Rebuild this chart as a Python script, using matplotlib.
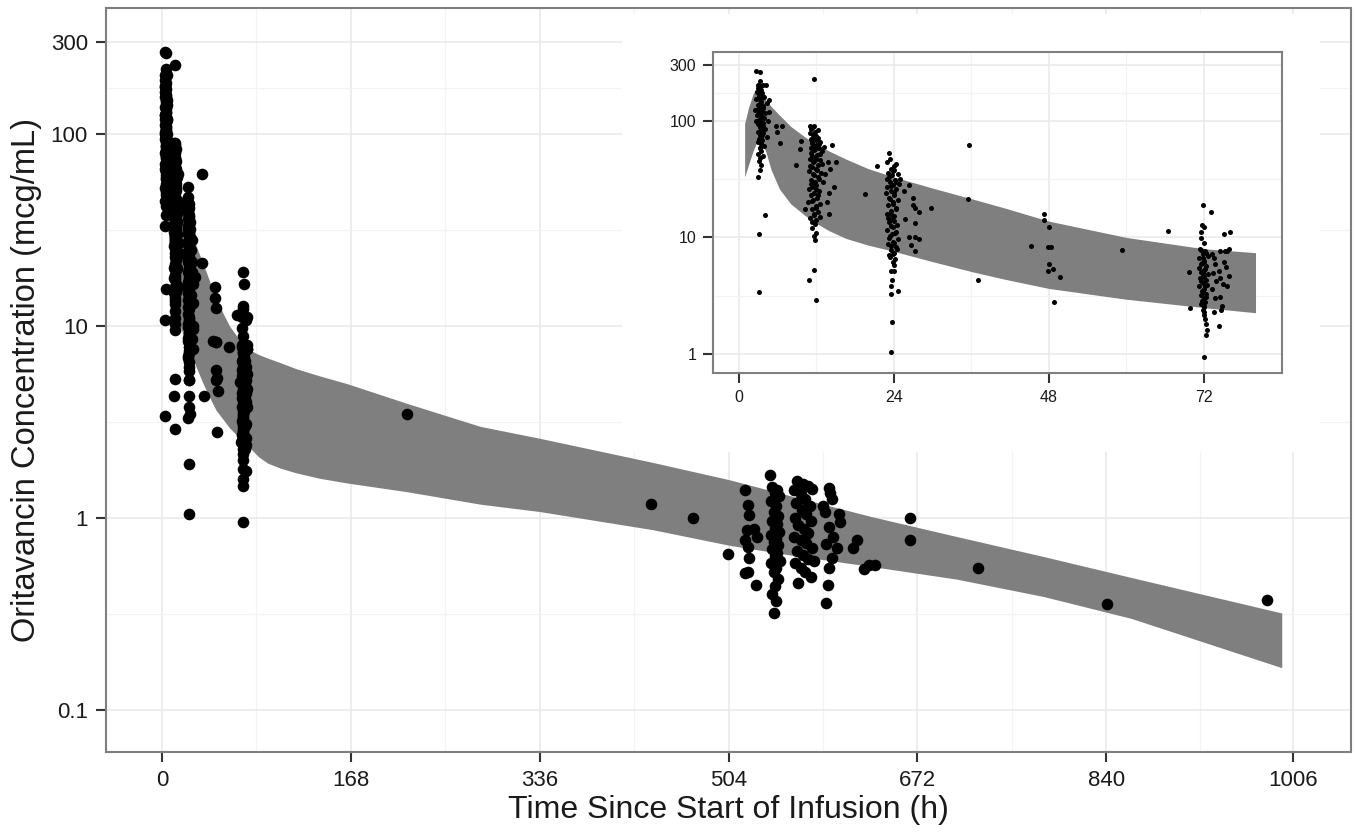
import matplotlib
matplotlib.use("Agg")
import matplotlib.pyplot as plt
from matplotlib.ticker import FixedLocator, NullFormatter

plt.rcParams['font.family'] = ['Liberation Sans', 'DejaVu Sans']

# ---------------- data (time h, concentration mcg/mL) ----------------
pts_3h = [(2.6,268),(3.2,263),(3.2,219),(2.9,204),(3.7,204),(4.2,204),(3.0,190),(3.4,185),(2.8,178),(3.6,172),
          (3.1,165),(3.9,160),(2.7,155),(3.3,150),(3.5,146),(4.4,142),(3.0,138),(3.8,135),(3.2,130),(2.9,126),
          (3.6,122),(4.1,118),(3.3,115),(2.8,112),(3.5,108),(3.9,105),(3.1,102),(4.5,100),(3.4,97),(2.9,94),
          (3.7,91),(3.2,88),(4.0,86),(3.5,83),(3.0,80),(3.8,78),(3.3,75),(4.3,73),(3.1,70),(3.6,68),
          (2.9,66),(3.4,63),(3.9,61),(3.2,58),(3.5,55),(3.0,52),(3.7,50),(3.3,48),(3.1,45),(3.4,42),
          (3.2,38),(3.0,33),(4.0,15.5),(3.05,10.8),(3.1,3.4),(5.8,90),(6.7,90),(5.9,80),(6.3,65),(4.6,150),
          (4.7,120),(2.5,125),(2.6,100),(3.5,200),(3.1,175),(3.6,158),(3.3,140),(3.7,128),(3.1,119),(3.5,110),
          (3.3,99),(3.8,95),(3.4,87),(3.2,82),(3.6,76),(3.4,71),(3.5,64),(3.3,59)]

pts_12h = [(11.7,230),(11.0,90),(11.7,90),(11.2,85),(11.8,80),(11.5,76),(12.2,72),(11.1,70),(11.9,68),(12.6,66),
           (11.4,64),(12.0,62),(11.3,60),(12.4,58),(11.6,56),(12.9,55),(11.2,53),(12.1,51),(11.8,49),(11.0,47),
           (12.5,46),(11.5,44),(12.2,42),(11.3,40),(11.9,39),(10.8,37),(12.7,36),(11.6,34),(12.3,33),(11.1,31),
           (11.8,30),(12.0,28),(11.4,27),(10.9,26),(12.4,25),(11.7,24),(11.2,23),(12.1,22),(11.5,21),(10.7,20),
           (12.6,19.5),(11.9,18.5),(11.3,17.5),(12.2,16.5),(11.6,15.5),(11.0,14.8),(12.0,14),(11.8,13),(11.4,12),(11.9,11),
           (11.6,10.3),(11.8,9.5),(11.7,5.3),(10.9,4.3),(11.9,2.9),(8.8,42),(9.65,67),(9.5,57),(10.3,17.7),(13.8,44),
           (15.0,44),(14.1,39),(14.7,27),(13.9,24),(13.9,16),(13.6,20),(13.2,60),(14.5,62),(13.0,30),(13.4,35),
           (11.5,88),(12.3,84),(11.0,78),(12.0,74),(11.7,71),(11.4,66),(12.4,63),(11.1,59),(11.8,57),(12.6,52),
           (11.3,50),(12.0,47),(11.6,45),(12.8,43),(11.0,41),(12.1,38),(11.5,35),(12.4,32),(11.2,29),(11.9,26),
           (12.3,23),(11.4,20.5),(12.0,18),(11.7,16),(12.5,15),(11.3,13.5)]

pts_24h = [(23.2,53),(23.0,44),(24.4,43),(21.4,41),(23.5,39),(24.0,38),(23.1,36),(24.6,35),(23.7,34),(22.9,32),
           (24.2,31),(23.4,30),(24.8,29),(23.9,28),(23.0,27),(24.3,26),(23.6,25),(22.8,24),(24.1,23),(23.3,22),
           (24.7,21),(23.8,20),(23.1,19),(24.4,18),(23.5,17),(22.9,16),(24.0,15.2),(23.7,14.4),(23.2,13.6),(24.5,12.9),
           (23.9,12.2),(23.0,11.5),(24.2,10.9),(23.4,10.3),(24.6,9.7),(23.8,9.2),(23.1,8.7),(24.3,8.2),(23.6,7.8),(24.0,7.4),
           (23.3,7.0),(24.2,6.5),(23.8,6.1),(24.1,5.8),(23.6,5.2),(24.1,5.2),(23.7,4.3),(23.6,3.8),(24.6,3.5),(23.5,3.3),
           (23.7,1.9),(23.6,1.05),(25.0,32),(26.4,28),(27.2,18),(27.9,16.6),(27.2,13.2),(27.9,9.7),(27.2,10),(26.7,8.6),
           (27.2,7.6),(25.7,14.5),(27.0,21.6),(26.9,19),(26.3,10.0),(25.5,25),(19.6,23.8),(29.7,18),(35.6,62),(35.5,21.3),
           (37.1,4.3),(23.4,47),(24.1,41),(23.8,37),(23.2,33),(24.4,30),(23.6,27.5),(24.0,24.5),(23.4,21.5),(23.9,19.5),
           (24.3,17.5),(23.6,15.8),(23.1,14.8),(24.0,13.9),(23.5,12.5),(24.4,11.2),(23.7,10.6),(23.2,9.9),(24.1,9.0),(23.5,8.4),
           (24.5,7.9),(23.9,7.2),(23.4,6.8)]

pts_48h = [(47.3,16),(47.2,14),(48.05,12.4),(45.2,8.4),(47.8,8.3),(48.3,8.3),(47.95,5.9),(47.9,5.2),(48.7,5.35),(49.8,4.6),
           (48.8,2.8),(59.4,7.8),(66.5,11.4)]

pts_72h = [(71.8,19.1),(73.1,16.6),(71.7,12.7),(72.0,12.2),(71.5,11.2),(71.6,9.8),(72.0,8.9),(72.3,1.8),(72.5,1.6),(72.4,1.46),
           (72.0,0.95),(75.1,10.8),(76.0,11.2),(75.9,8.0),(74.5,7.6),(75.3,7.6),(75.6,7.6),(75.1,6.1),(75.4,5.6),(74.3,5.2),
           (74.5,4.5),(75.9,4.7),(74.9,4.0),(75.6,3.8),(74.5,3.1),(74.8,2.6),(74.6,2.4),(73.6,2.3),(74.3,1.75),(69.7,5.1),
           (69.9,2.5),(73.2,7.2),(73.5,6.6),(73.8,5.9),(73.4,5.0),(73.9,4.2),(73.3,3.6),(73.7,3.0),
           (71.4,8.0),(72.2,7.6),(71.8,7.2),(72.6,6.9),(71.3,6.6),(72.1,6.3),(71.7,6.0),(72.4,5.7),(71.2,5.5),(72.0,5.3),
           (71.6,5.1),(72.7,4.9),(71.9,4.7),(71.4,4.5),(72.3,4.3),(71.8,4.1),(72.5,3.9),(71.3,3.8),(72.1,3.6),(71.7,3.5),
           (72.4,3.3),(71.5,3.2),(72.0,3.0),(71.8,2.9),(72.2,2.8),(71.6,2.7),(72.0,2.55),(71.9,2.4),(72.1,2.3),(72.0,2.16),
           (72.2,2.0),(71.6,7.8),(72.3,7.3),(71.9,6.7),(72.0,6.1),(71.5,5.9),(72.2,5.4),(71.8,5.0),(72.1,4.6),(71.6,4.2),
           (72.2,3.85),(71.9,3.4),(72.3,3.1),(71.7,2.85),(72.1,2.6)]

pts_late = [(218,3.5),(435,1.18),(472,1.0),(503.7,0.65),(518.6,1.40),(521,1.17),(522,1.04),(520,0.87),(527,0.88),(519,0.77),
            (529,0.80),(521,0.71),(522,0.62),(519,0.515),(521,0.52),(528,0.45),
            (541,1.67),(543,1.45),(547,1.40),(545,1.35),(549,1.30),(542,1.22),(546,1.15),(544,1.08),(548,1.02),(543,0.97),
            (547,0.93),(545,0.89),(549,0.85),(542,0.82),(546,0.78),(544,0.75),(548,0.72),(543,0.69),(547,0.66),(545,0.63),
            (550,0.60),(542,0.58),(546,0.55),(544,0.52),(548,0.48),(545,0.44),(543,0.40),(546,0.37),(544,0.32),
            (565,1.55),(570,1.50),(575,1.46),(562,1.40),(578,1.42),(568,1.33),(572,1.26),(564,1.20),(576,1.15),(569,1.10),
            (573,1.05),(563,1.00),(577,0.96),(566,0.92),(571,0.88),(575,0.84),(562,0.80),(568,0.77),(573,0.74),(578,0.70),
            (565,0.67),(570,0.64),(575,0.61),(563,0.58),(568,0.55),(572,0.52),(577,0.49),(566,0.46),
            (593,1.44),(594,1.35),(596,1.25),(588,1.16),(590,1.08),(602,1.05),(603,0.95),(593,0.90),(597,0.80),(591,0.73),
            (596,0.62),(593,0.55),(592,0.45),(591,0.36),(580,0.60),(600,0.70),
            (618,0.77),(615,0.70),(624,0.54),(629,0.57),(634,0.57),(665,1.0),(665,0.77),(726,0.55),(841,0.357),(983,0.374)]

# prediction band: time, lower, upper
band_t  = [0.9, 1.5, 2.2, 2.8, 3.5, 4.2, 5.0, 6.3, 8.0, 10.2, 12.0, 14.0, 16.6, 20, 24, 30, 36, 41, 48, 60, 72, 80,
           86, 94, 105, 119, 140, 165, 218, 283, 336, 436, 505, 560, 630, 707, 784, 862, 996]
band_lo = [33, 42, 55, 66, 66, 54, 38, 26, 19.5, 15.5, 13.2, 11.4, 9.8, 8.6, 7.6, 6.2, 5.1, 4.4, 3.65, 2.95, 2.5, 2.26,
           2.08, 1.93, 1.82, 1.72, 1.61, 1.52, 1.37, 1.18, 1.08, 0.87, 0.72, 0.64, 0.56, 0.48, 0.39, 0.30, 0.166]
band_hi = [95, 130, 170, 198, 175, 150, 133, 112, 90, 73, 63, 55, 47, 39, 33, 26.5, 21.5, 18, 13.8, 10, 8.0, 7.4,
           7.1, 6.8, 6.45, 6.0, 5.5, 5.0, 3.95, 3.0, 2.6, 1.95, 1.58, 1.30, 1.02, 0.80, 0.63, 0.49, 0.32]

main_xticks = [0, 168, 336, 504, 672, 840, 1006]
main_yticks = [0.1, 1, 10, 100, 300]
main_ylabels = ['0.1', '1', '10', '100', '300']
inset_xticks = [0, 24, 48, 72]
inset_yticks = [1, 10, 100, 300]
inset_ylabels = ['1', '10', '100', '300']

all_pts = pts_3h + pts_12h + pts_24h + pts_48h + pts_72h + pts_late
t_obs = [p[0] for p in all_pts]
c_obs = [p[1] for p in all_pts]

# ---------------- figure ----------------
W, H = 1358, 832
fig = plt.figure(figsize=(W/100, H/100), dpi=100)

def box(l, t, r, b):
    return [l/W, 1-b/H, (r-l)/W, (b-t)/H]

GRID_MAJ = '#e8e8e8'
GRID_MIN = '#f3f3f3'
SPINE = '#7f7f7f'
BAND = '#7f7f7f'

def style(ax, labsize, pad):
    for s in ax.spines.values():
        s.set_color(SPINE)
        s.set_linewidth(1.5)
    ax.tick_params(which='major', length=7, width=1.5, color='#333333',
                   labelsize=labsize, labelcolor='#1a1a1a', pad=pad)
    ax.tick_params(which='minor', length=0)
    ax.grid(which='major', color=GRID_MAJ, lw=1.1)
    ax.grid(which='minor', color=GRID_MIN, lw=0.9)
    ax.set_axisbelow(True)
    ax.yaxis.set_minor_formatter(NullFormatter())
    ax.xaxis.set_minor_formatter(NullFormatter())

# main axes
ax = fig.add_axes(box(106, 8, 1351, 752))
ax.fill_between(band_t, band_lo, band_hi, color=BAND, lw=0, zorder=2)
ax.scatter(t_obs, c_obs, s=70, color='black', lw=0, zorder=3)
ax.set_yscale('log')
ax.set_xlim(-49.8, 1057.6)
ax.set_ylim(0.0604, 453)
ax.set_xticks(main_xticks)
ax.set_xticklabels([str(v) for v in main_xticks])
ax.set_yticks(main_yticks)
ax.set_yticklabels(main_ylabels)
ax.xaxis.set_minor_locator(FixedLocator([84, 252, 420, 588, 756, 923]))
ax.yaxis.set_minor_locator(FixedLocator([10**-0.5, 10**0.5, 10**1.5, 10**2.239]))
style(ax, 16, 6)
ax.set_xlabel('Time Since Start of Infusion (h)', fontsize=23, color='#1a1a1a', labelpad=3)
ax.set_ylabel('Oritavancin Concentration (mcg/mL)', fontsize=23.5, color='#1a1a1a', labelpad=6)

# white background of the inset viewport
bg = fig.add_axes(box(622, 14, 1320, 452))
bg.set_xticks([]); bg.set_yticks([])
for s in bg.spines.values():
    s.set_visible(False)
bg.set_facecolor('white')

# inset axes
ins = fig.add_axes(box(713, 52, 1282, 373))
ib_t = [t for t in band_t if t <= 80]
ib_lo = band_lo[:len(ib_t)]
ib_hi = band_hi[:len(ib_t)]
ins.fill_between(ib_t, ib_lo, ib_hi, color=BAND, lw=0, zorder=2)
it = [t for t in t_obs if t <= 84]
ic = [c for t, c in zip(t_obs, c_obs) if t <= 84]
ins.scatter(it, ic, s=13, color='black', lw=0, zorder=3)
ins.set_yscale('log')
ins.set_xlim(-4.0, 84.1)
ins.set_ylim(0.687, 390)
ins.set_xticks(inset_xticks)
ins.set_xticklabels([str(v) for v in inset_xticks])
ins.set_yticks(inset_yticks)
ins.set_yticklabels(inset_ylabels)
ins.xaxis.set_minor_locator(FixedLocator([12, 36, 60]))
ins.yaxis.set_minor_locator(FixedLocator([10**0.5, 10**1.5, 10**2.239]))
style(ins, 11.5, 5)

fig.savefig('out.png', dpi=100, facecolor='white')
